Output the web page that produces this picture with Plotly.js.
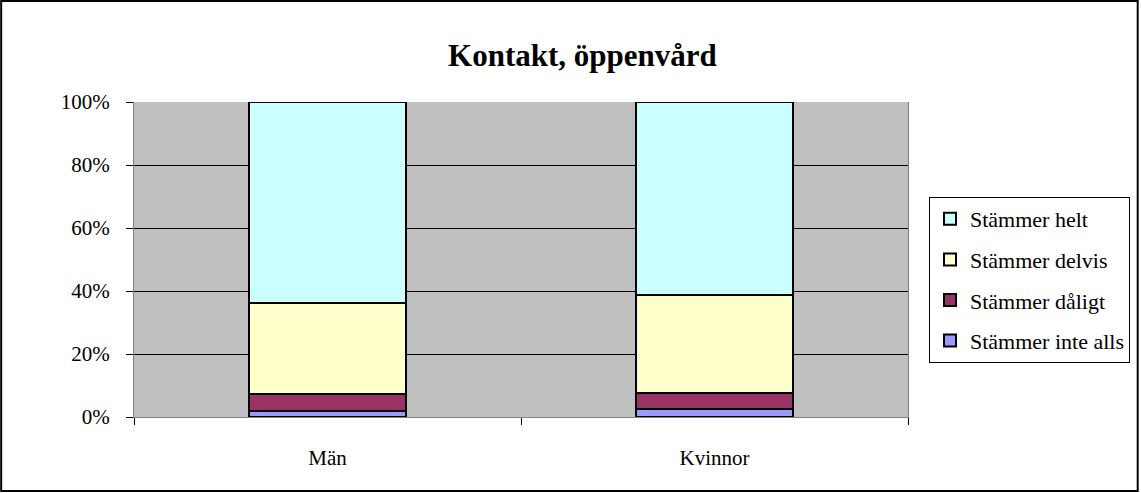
<!DOCTYPE html>
<html><head><meta charset="utf-8">
<script src="https://cdn.plot.ly/plotly-3.0.1.min.js"></script>
<style>body{margin:0;background:#fff}#chart{width:1141px;height:493px}</style>
</head><body><div id="chart"></div>
<script>
const categories = ["Män", "Kvinnor"];
const seriesNames = ["Stämmer inte alls", "Stämmer dåligt", "Stämmer delvis", "Stämmer helt"];
const inteAlls = [1.8, 2.5];
const daligt = [5.4, 5.1];
const delvis = [29.1, 31.2];
const helt = [63.7, 61.2];
const tickVals = [0, 20, 40, 60, 80, 100];
const tickText = ["0%", "20%", "40%", "60%", "80%", "100%"];

const colors = ["#9999FF", "#993366", "#FFFFCC", "#CCFFFF"];
const values = [inteAlls, daligt, delvis, helt];
const font = "Liberation Serif, Times New Roman, serif";

const traces = values.map((v, i) => ({
  type: "bar", x: categories, y: v, name: seriesNames[i], legendgroup: "g" + i,
  legendrank: values.length - i,
  marker: {color: colors[i], line: {color: "#000", width: 2}},
  hoverinfo: "skip"
}));

const L = 134, R = 909, T = 102, B = 417, W = 1141, H = 493;
const pw = R - L, ph = B - T;
const layout = {
  width: W, height: H,
  margin: {l: L, r: W - R, t: T, b: H - B, pad: 0},
  paper_bgcolor: "#fff", plot_bgcolor: "#C0C0C0",
  barmode: "stack", bargap: 0.595,
  showlegend: true,
  title: {text: "<b>Kontakt, öppenvård</b>", font: {family: font, size: 31, color: "#000"},
          x: (583 - L) / pw, xref: "paper", xanchor: "center", y: 1 - 55 / H, yanchor: "middle"},
  font: {family: font, size: 21, color: "#000"},
  xaxis: {type: "category", tickson: "boundaries", ticks: "outside", ticklen: 7, tickcolor: "#000",
          showline: true, linecolor: "#808080", linewidth: 1, showgrid: false, zeroline: false,
          ticklabelstandoff: 22,
          tickfont: {family: font, size: 21, color: "#000"}, fixedrange: true},
  yaxis: {range: [0, 100], tickvals: tickVals, ticktext: tickText, ticks: "outside", ticklen: 7,
          tickcolor: "#000", showline: true, linecolor: "#808080", linewidth: 1, mirror: true,
          showgrid: true, gridcolor: "#000", gridwidth: 1, zeroline: false,
          ticklabelstandoff: 12,
          tickfont: {family: font, size: 21, color: "#000"}, fixedrange: true},
  legend: {x: (929 - L) / pw, xanchor: "left", y: (B - 197) / ph, yanchor: "top",
           traceorder: "grouped", bgcolor: "#fff", bordercolor: "#000", borderwidth: 1,
           font: {family: font, size: 22, color: "#000"}, itemwidth: 30, tracegroupgap: 9},
  shapes: [{type: "rect", xref: "paper", yref: "paper",
            x0: (1 - L) / pw, x1: (W - 2 - L) / pw, y0: (B - (H - 2)) / ph, y1: (B - 1) / ph,
            line: {color: "#000", width: 2}, fillcolor: "rgba(0,0,0,0)", layer: "above"}]
};
Plotly.newPlot("chart", traces, layout, {staticPlot: true, displayModeBar: false});
</script></body></html>
